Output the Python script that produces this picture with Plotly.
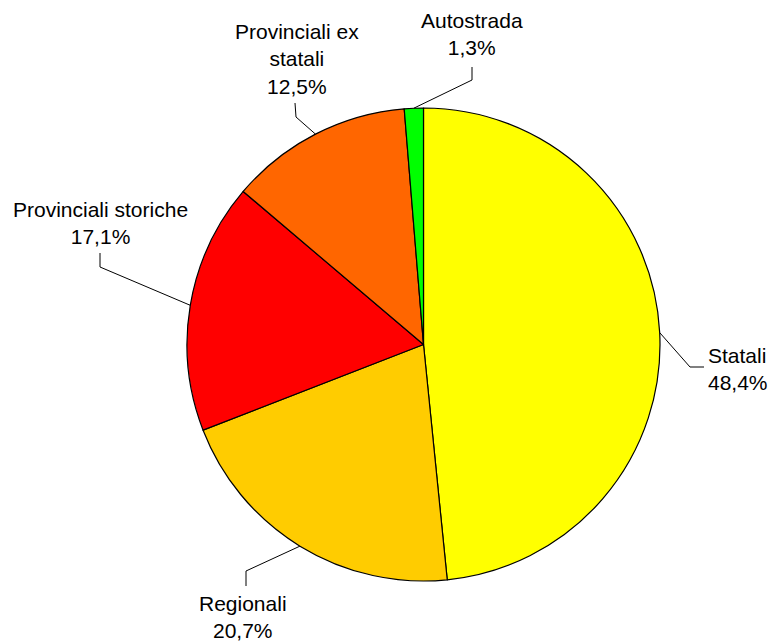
import math
import plotly.graph_objects as go

# ---- data ----
categories = ["Statali", "Regionali", "Provinciali storiche", "Provinciali ex statali", "Autostrada"]
shares = [48.4, 20.7, 17.1, 12.5, 1.3]
label_texts = ["Statali", "Regionali", "Provinciali storiche", "Provinciali ex<br>statali", "Autostrada"]
colors = ["#FFFF00", "#FFCC00", "#FF0000", "#FF6600", "#00FF00"]

# ---- layout (pixels) ----
W, H = 769, 642
cx, cy, R = 423.5, 344.5, 236.5
# elbow point, end point of leader line, text anchor (x, y, xanchor, yanchor)
label_layout = [
    ((690, 367), (704, 367), (707, 369, "left", "middle")),
    ((246, 571), (246, 586), (243, 591, "center", "top")),
    ((100, 267), (100, 253), (100, 249, "center", "bottom")),
    ((296, 117), (295, 103), (297, 99, "center", "bottom")),
    ((472, 80), (472, 67), (472, 60, "center", "bottom")),
]


def px(x):
    return x / W


def py(y):
    return 1 - y / H


fig = go.Figure(go.Pie(
    labels=categories,
    values=shares,
    sort=False,
    direction="clockwise",
    rotation=0,
    textinfo="none",
    hoverinfo="label+percent",
    marker=dict(colors=colors, line=dict(color="#000000", width=1.2)),
    domain=dict(x=[px(cx - R), px(cx + R)], y=[py(cy + R), py(cy - R)]),
    showlegend=False,
))

shapes = []
annotations = []
total = sum(shares)
cum = 0.0
for name, txt, val, (elbow, end, (tx, ty, xa, ya)) in zip(categories, label_texts, shares, label_layout):
    mid = (cum + val / 2) / total * 2 * math.pi
    cum += val
    ex = cx + R * math.sin(mid)
    ey = cy - R * math.cos(mid)
    path = f"M {px(ex)} {py(ey)} L {px(elbow[0])} {py(elbow[1])} L {px(end[0])} {py(end[1])}"
    shapes.append(dict(type="path", xref="paper", yref="paper", path=path,
                       line=dict(color="#000000", width=1)))
    pct = f"{val:.1f}".replace(".", ",") + "%"
    annotations.append(dict(
        x=px(tx), y=py(ty), xref="paper", yref="paper",
        text=f"{txt}<br>{pct}", showarrow=False,
        xanchor=xa, yanchor=ya, align="center" if xa == "center" else "left",
        font=dict(family="Liberation Sans, Arial, sans-serif", size=21, color="#000000"),
        borderpad=0,
    ))

fig.update_layout(
    width=W, height=H,
    margin=dict(l=0, r=0, t=0, b=0),
    paper_bgcolor="#FFFFFF",
    plot_bgcolor="#FFFFFF",
    shapes=shapes,
    annotations=annotations,
)

fig.write_html("out.html", config={"displayModeBar": False},
               post_script="document.body.style.margin='0';document.body.style.overflow='hidden';")
